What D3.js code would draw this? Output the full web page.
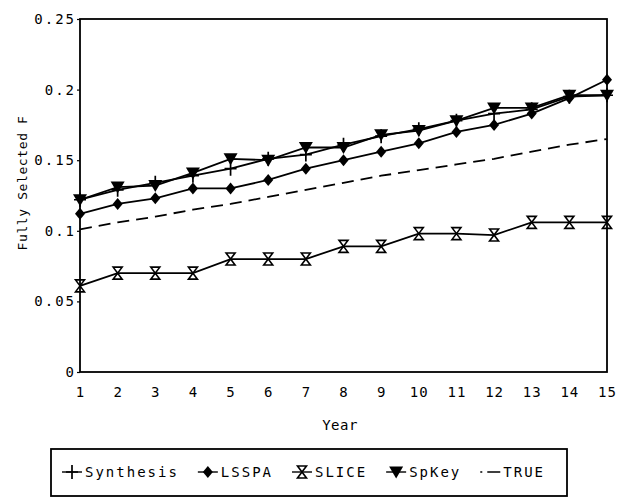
<!DOCTYPE html>
<html><head><meta charset="utf-8">
<script src="https://cdn.jsdelivr.net/npm/d3@7"></script>
<style>
body{margin:0;background:#fff;}
svg{display:block;}
text{font-family:"DejaVu Sans Mono",monospace;fill:#000;}
</style></head>
<body><svg id="c" width="620" height="499"></svg>
<script>
const years = [1,2,3,4,5,6,7,8,9,10,11,12,13,14,15];
const synthesis = [0.122,0.129,0.134,0.139,0.144,0.151,0.154,0.161,0.167,0.172,0.178,0.183,0.186,0.195,0.196];
const lsspa     = [0.112,0.119,0.123,0.130,0.130,0.136,0.144,0.150,0.156,0.162,0.170,0.175,0.183,0.194,0.207];
const slice     = [0.061,0.070,0.070,0.070,0.080,0.080,0.080,0.089,0.089,0.098,0.098,0.097,0.106,0.106,0.106];
const spkey     = [0.122,0.131,0.132,0.141,0.151,0.150,0.159,0.159,0.168,0.171,0.178,0.187,0.187,0.196,0.196];
const trueF     = [0.101,0.106,0.110,0.115,0.119,0.124,0.129,0.134,0.139,0.143,0.147,0.151,0.156,0.161,0.165];
const yTicks = [0,0.05,0.1,0.15,0.2,0.25];
const yTickLabels = ["0","0.05","0.1","0.15","0.2","0.25"];
const seriesNames = ["Synthesis","LSSPA","SLICE","SpKey","TRUE"];
const xTitle = "Year", yTitle = "Fully Selected F";

const svg = d3.select("#c");
const L=80, R=607, T=19, B=372;
const x = d3.scaleLinear().domain([1,15]).range([L,R]);
const y = d3.scaleLinear().domain([0,0.25]).range([B,T]);

svg.append("rect").attr("x",L).attr("y",T).attr("width",R-L).attr("height",B-T)
  .attr("fill","none").attr("stroke","#000").attr("stroke-width",1.8);

const yAxis = d3.axisLeft(y).tickValues(yTicks).tickFormat((d,i)=>yTickLabels[i]).tickSize(3).tickSizeOuter(0).tickPadding(1);
const gy = svg.append("g").attr("transform",`translate(${L},0)`).call(yAxis);
gy.select(".domain").remove();
gy.selectAll("line").attr("stroke","#000").attr("stroke-width",1.2);
gy.selectAll("text").attr("font-family",null).style("font-size","14px").style("letter-spacing","2px");

const xAxis = d3.axisBottom(x).tickValues(years).tickFormat(d3.format("d")).tickSize(0).tickPadding(15);
const gx = svg.append("g").attr("transform",`translate(0,${B})`).call(xAxis);
gx.select(".domain").remove();
gx.selectAll("text").attr("font-family",null).style("font-size","14px").style("letter-spacing","1px");

svg.append("text").attr("x",340).attr("y",430).attr("text-anchor","middle")
  .style("font-size","14px").style("letter-spacing","0.5px").text(xTitle);
svg.append("text").attr("transform",`translate(27,${183}) rotate(-90)`).attr("text-anchor","middle")
  .style("font-size","13px").style("letter-spacing","0.6px").text(yTitle);

const line = d3.line().x((d,i)=>x(years[i])).y(d=>y(d));

function sym(g, type, cx, cy){
  if(type==="plus"){
    g.append("path").attr("d",`M${cx-6},${cy}H${cx+6}M${cx},${cy-7}V${cy+7}`).attr("stroke","#000").attr("stroke-width",1.7).attr("fill","none");
  } else if(type==="diamond"){
    g.append("path").attr("d",`M${cx},${cy-6}L${cx+5},${cy}L${cx},${cy+6}L${cx-5},${cy}Z`).attr("fill","#000");
  } else if(type==="hour"){
    g.append("path").attr("d",`M${cx-4.5},${cy-6}H${cx+4.5}L${cx-4.5},${cy+6}H${cx+4.5}Z`).attr("fill","none").attr("stroke","#000").attr("stroke-width",1.6);
  } else if(type==="tri"){
    g.append("path").attr("d",`M${cx-7},${cy-5.5}H${cx+7}L${cx},${cy+6.5}Z`).attr("fill","#000");
  }
}
const series = [
  {name:seriesNames[0], vals:synthesis, sym:"plus"},
  {name:seriesNames[1], vals:lsspa, sym:"diamond"},
  {name:seriesNames[2], vals:slice, sym:"hour"},
  {name:seriesNames[3], vals:spkey, sym:"tri"},
  {name:seriesNames[4], vals:trueF, sym:null, dash:"12,7"}
];
series.forEach(s=>{
  svg.append("path").datum(s.vals).attr("d",line).attr("fill","none").attr("stroke","#000")
    .attr("stroke-width",1.8).attr("stroke-dasharray",s.dash||null);
  if(s.sym){
    const g = svg.append("g");
    s.vals.forEach((v,i)=>sym(g,s.sym,x(years[i]),y(v)));
  }
});

// legend
const lg = svg.append("g");
lg.append("rect").attr("x",51).attr("y",449).attr("width",516).attr("height",47)
  .attr("fill","none").attr("stroke","#000").attr("stroke-width",1.8);
const ly = 472, startX = 62, endX = 543, symW = 20, symGap = 3;
const texts = series.map(s=>lg.append("text").attr("y",ly+5).style("font-size","14px").style("letter-spacing","2px").text(s.name));
const widths = texts.map(t=>t.node().getComputedTextLength()-2);
const total = widths.reduce((a,b)=>a+b,0) + series.length*(symW+symGap);
const gap = (endX-startX-total)/(series.length-1);
let cx = startX;
series.forEach((s,i)=>{
  const c = cx + symW/2;
  if(s.sym){
    lg.append("line").attr("x1",cx).attr("x2",cx+symW).attr("y1",ly).attr("y2",ly).attr("stroke","#000").attr("stroke-width",1.4);
    sym(lg,s.sym,c,ly);
  } else {
    lg.append("line").attr("x1",cx).attr("x2",cx+symW).attr("y1",ly).attr("y2",ly)
      .attr("stroke","#000").attr("stroke-width",1.4).attr("stroke-dasharray","2,5,13");
  }
  texts[i].attr("x",cx+symW+symGap);
  cx += symW+symGap+widths[i]+gap;
});
</script></body></html>
